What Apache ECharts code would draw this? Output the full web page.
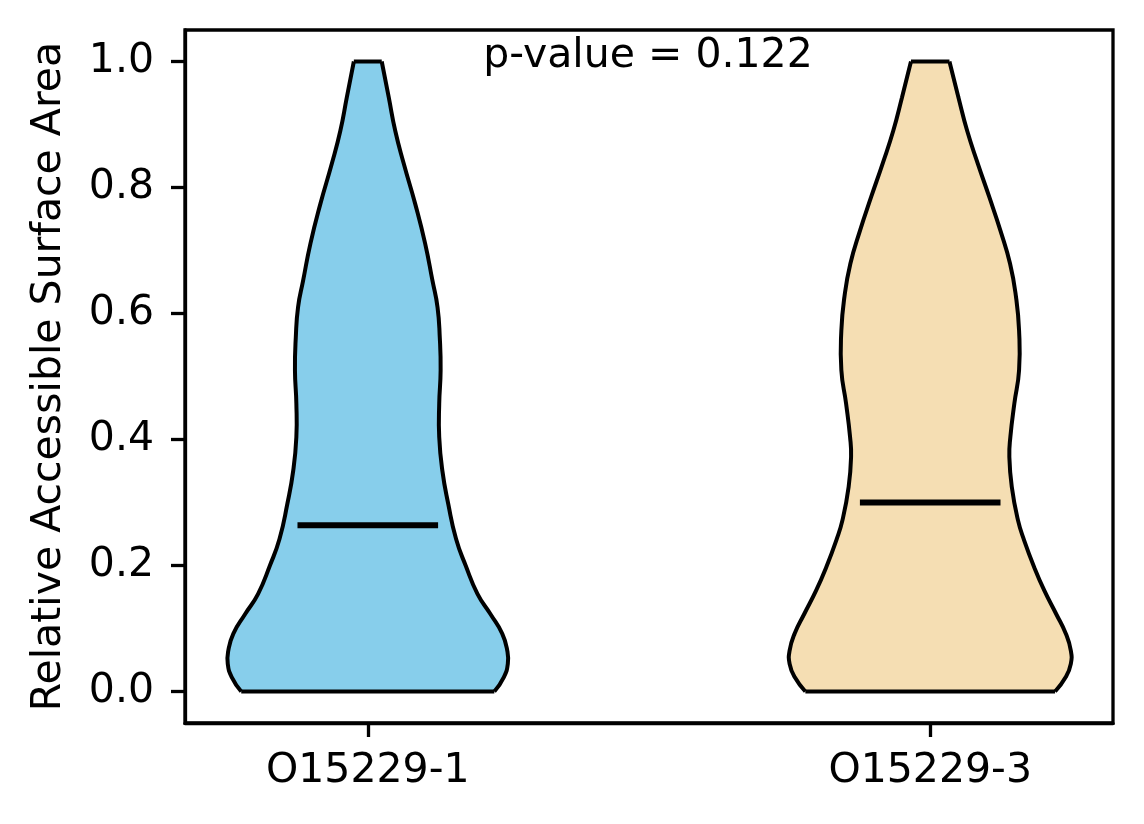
<!DOCTYPE html>
<html>
<head>
<meta charset="UTF-8">
<title>Relative Accessible Surface Area</title>
<script src="https://cdn.jsdelivr.net/npm/echarts@6.0.0/dist/echarts.min.js"></script>
<style>
html, body {
	margin: 0;
	padding: 0;
	background: #ffffff;
}

#main {
	width: 1144px;
	height: 824px;
}
</style>
</head>
<body>
	<div id="main"></div>
	<script>
		// categories and their positions on the value axis
		var categories = [ 'O15229-1', 'O15229-3' ];
		var positions = [ 1, 2 ];
		var medians = [ 0.264, 0.300 ];
		var fills = [ '#87CEEB', '#F5DEB3' ];

		// density outline: y value and half width
		var kdeY1 = [ 0, 0.023, 0.044, 0.065, 0.092, 0.123, 0.155, 0.200, 0.242,
				0.298, 0.351, 0.404, 0.457, 0.510, 0.562, 0.610, 0.652, 0.711,
				0.774, 0.838, 0.890, 0.943, 1.0 ];
		var halfW1 = [ 0.225, 0.242, 0.249, 0.248, 0.239, 0.218, 0.195, 0.174,
				0.157, 0.143, 0.1325, 0.127, 0.127, 0.1295, 0.128, 0.124, 0.115,
				0.102, 0.0843, 0.0639, 0.0488, 0.0373, 0.0248 ];

		var kdeY2 = [ 0, 0.023, 0.044, 0.065, 0.092, 0.123, 0.160, 0.197, 0.240,
				0.272, 0.325, 0.373, 0.404, 0.457, 0.510, 0.573, 0.626, 0.679,
				0.732, 0.785, 0.838, 0.890, 0.943, 1.0 ];
		var halfW2 = [ 0.222, 0.241, 0.250, 0.250, 0.241, 0.224, 0.203, 0.185,
				0.167, 0.156, 0.145, 0.1407, 0.1425, 0.1496, 0.158, 0.158,
				0.1526, 0.142, 0.1247, 0.105, 0.0846, 0.0657, 0.0502, 0.0342 ];

		var yTicks = [ 0, 0.2, 0.4, 0.6, 0.8, 1.0 ];
		var pValueText = 'p-value = 0.122';

		var profiles = [ {
			y : kdeY1,
			w : halfW1
		}, {
			y : kdeY2,
			w : halfW2
		} ];

		var font = 'DejaVu Sans';

		function renderViolin(params, api) {
			var i = api.value(0);
			var pos = positions[i];
			var ys = profiles[i].y;
			var hw = profiles[i].w;
			var left = [], right = [];
			for (var k = 0; k < ys.length; k++) {
				left.push(api.coord([ pos - hw[k], ys[k] ]));
				right.push(api.coord([ pos + hw[k], ys[k] ]));
			}
			var outline = left.concat(right.slice().reverse());
			var last = ys.length - 1;
			var m1 = api.coord([ pos - 0.125, medians[i] ]);
			var m2 = api.coord([ pos + 0.125, medians[i] ]);
			var edge = {
				stroke : '#000000',
				lineWidth : 4,
				fill : null,
				lineJoin : 'round'
			};
			return {
				type : 'group',
				children : [ {
					type : 'polygon',
					shape : {
						points : outline
					},
					style : {
						fill : fills[i],
						stroke : null
					}
				}, {
					type : 'polyline',
					shape : {
						points : left,
						smooth : 0.5
					},
					style : edge
				}, {
					type : 'polyline',
					shape : {
						points : right,
						smooth : 0.5
					},
					style : edge
				}, {
					type : 'line',
					shape : {
						x1 : left[0][0],
						y1 : left[0][1],
						x2 : right[0][0],
						y2 : right[0][1]
					},
					style : edge
				}, {
					type : 'line',
					shape : {
						x1 : left[last][0],
						y1 : left[last][1],
						x2 : right[last][0],
						y2 : right[last][1]
					},
					style : edge
				}, {
					type : 'line',
					shape : {
						x1 : m1[0],
						y1 : m1[1],
						x2 : m2[0],
						y2 : m2[1]
					},
					style : {
						stroke : '#000000',
						lineWidth : 6
					}
				} ]
			};
		}

		var option = {
			animation : false,
			backgroundColor : '#ffffff',
			grid : {
				left : 185,
				right : 31,
				top : 30,
				bottom : 101,
				show : true,
				borderColor : '#000000',
				borderWidth : 3.3,
				backgroundColor : 'transparent'
			},
			xAxis : {
				type : 'value',
				min : 0.675,
				max : 2.325,
				splitLine : {
					show : false
				},
				axisLine : {
					show : true,
					onZero : false,
					lineStyle : {
						color : '#000000',
						width : 3.3
					}
				},
				axisTick : {
					show : true,
					length : 14,
					customValues : positions,
					lineStyle : {
						color : '#000000',
						width : 3.3
					}
				},
				axisLabel : {
					customValues : positions,
					margin : 28,
					color : '#000000',
					fontFamily : font,
					fontSize : 41,
					formatter : function(v) {
						return categories[positions.indexOf(v)];
					}
				}
			},
			yAxis : {
				type : 'value',
				min : -0.05,
				max : 1.05,
				name : 'Relative Accessible Surface Area',
				nameLocation : 'middle',
				nameGap : 115,
				nameTextStyle : {
					color : '#000000',
					fontFamily : font,
					fontSize : 41
				},
				splitLine : {
					show : false
				},
				axisLine : {
					show : true,
					onZero : false,
					lineStyle : {
						color : '#000000',
						width : 3.3
					}
				},
				axisTick : {
					show : true,
					length : 14,
					customValues : yTicks,
					lineStyle : {
						color : '#000000',
						width : 3.3
					}
				},
				axisLabel : {
					customValues : yTicks,
					margin : 31,
					color : '#000000',
					fontFamily : font,
					fontSize : 41,
					formatter : function(v) {
						return v.toFixed(1);
					}
				}
			},
			graphic : [ {
				type : 'text',
				x : 648,
				y : 36,
				style : {
					text : pValueText,
					fill : '#000000',
					font : '41px "DejaVu Sans"',
					textAlign : 'center',
					textVerticalAlign : 'top'
				}
			} ],
			series : [ {
				type : 'custom',
				renderItem : renderViolin,
				data : [ [ 0 ], [ 1 ] ],
				silent : true
			} ]
		};

		var mychart = echarts.init(document.getElementById('main'));
		mychart.setOption(option);
	</script>
</body>
</html>
